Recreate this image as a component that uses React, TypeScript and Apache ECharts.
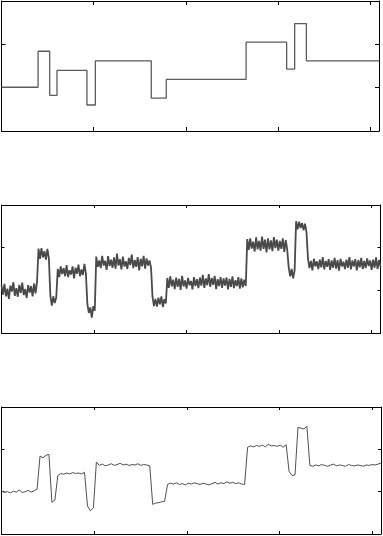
import React, { useEffect, useRef } from "react";
import * as echarts from "echarts";

// Step (true) signal: start sample of each level, and the level
const stepStarts = [0, 397, 523, 602, 927, 1018, 1625, 1788, 2654, 3094, 3181, 3308, 4096];
const stepLevels = [1.01, 1.84, 0.82, 1.40, 0.60, 1.62, 0.76, 1.19, 2.05, 1.43, 2.48, 1.62, 1.62];

// Noisy observation, one value every 16 samples
const noisySpacing = 16;
const noisyValues = [
  1.12, 0.90, 1.15, 0.86, 1.04, 0.80, 1.11, 0.97, 1.19, 0.87, 1.05, 0.85, 1.13, 0.94, 1.18, 0.89, 1.03, 0.82, 1.12, 0.95, 1.10, 0.86, 1.16, 0.93, 1.20,
  1.98, 1.74, 1.99, 1.77, 1.92, 1.72, 1.97, 1.75,
  0.88, 0.64, 0.86, 0.70, 0.84,
  1.50, 1.31, 1.56, 1.38, 1.52, 1.33, 1.59, 1.31, 1.47, 1.37, 1.56, 1.28, 1.53, 1.39, 1.60, 1.33, 1.49, 1.36, 1.62, 1.40,
  0.68, 0.47, 0.60, 0.36, 0.63, 0.52,
  1.79, 1.55, 1.70, 1.52, 1.81, 1.58, 1.69, 1.48, 1.80, 1.57, 1.72, 1.53, 1.77, 1.51, 1.86, 1.58, 1.73, 1.49, 1.79, 1.56, 1.68, 1.50, 1.76, 1.59, 1.84, 1.52, 1.71, 1.55, 1.78, 1.47, 1.74, 1.56, 1.81, 1.51, 1.75, 1.58, 1.70, 1.53,
  0.85, 0.63, 0.80, 0.62, 0.83, 0.67, 0.86, 0.61, 0.79, 0.69,
  1.29, 1.06, 1.33, 1.09, 1.25, 1.03, 1.30, 1.08, 1.27, 1.01, 1.34, 1.09, 1.23, 1.04, 1.29, 1.12, 1.22, 1.02, 1.31, 1.10, 1.26, 1.05, 1.30, 1.11, 1.36, 1.06, 1.28, 1.12, 1.38, 1.08, 1.29, 1.13, 1.34, 1.03, 1.26, 1.10, 1.31, 1.06, 1.28, 1.11, 1.30, 1.02, 1.27, 1.08, 1.33, 1.05, 1.24, 1.10, 1.31, 1.04, 1.28, 1.07, 1.25, 1.10,
  2.20, 1.95, 2.22, 1.98, 2.14, 1.91, 2.24, 1.96, 2.16, 1.93, 2.26, 1.97, 2.19, 1.89, 2.22, 1.96, 2.17, 1.92, 2.25, 1.99, 2.19, 1.93, 2.16, 1.97, 2.22, 1.90, 2.18, 1.95,
  1.53, 1.33, 1.50, 1.28, 1.47,
  2.62, 2.43, 2.61, 2.46, 2.58, 2.41, 2.56, 2.37,
  1.75, 1.52, 1.69, 1.47, 1.74, 1.56, 1.68, 1.50, 1.72, 1.54, 1.78, 1.49, 1.69, 1.55, 1.73, 1.48, 1.70, 1.53, 1.76, 1.51, 1.71, 1.46, 1.74, 1.56, 1.67, 1.50, 1.72, 1.53, 1.78, 1.49, 1.70, 1.56, 1.73, 1.47, 1.71, 1.54, 1.76, 1.50, 1.69, 1.52, 1.75, 1.57, 1.70, 1.48, 1.72, 1.53, 1.77, 1.50, 1.71, 1.55,
];

// Denoised estimate, one value every 32 samples
const smoothSpacing = 32;
const smoothValues = [
  1.02, 0.98, 1.00, 0.97, 1.01, 0.99, 1.04, 0.98, 1.00, 1.03, 0.99, 1.02, 1.06,
  1.84, 1.80, 1.86, 1.88,
  0.75, 0.80,
  1.38, 1.43, 1.41, 1.44, 1.42, 1.45, 1.43, 1.44, 1.42, 1.46,
  0.66, 0.55, 0.62,
  1.70, 1.62, 1.65, 1.61, 1.63, 1.66, 1.62, 1.64, 1.67, 1.63, 1.65, 1.62, 1.64, 1.63, 1.66, 1.62, 1.64, 1.63, 1.61,
  0.70, 0.73, 0.74, 0.76, 0.77,
  1.17, 1.20, 1.18, 1.21, 1.17, 1.19, 1.16, 1.20, 1.18, 1.21, 1.19, 1.17, 1.20, 1.18, 1.16, 1.19, 1.22, 1.18, 1.21, 1.19, 1.23, 1.20, 1.22, 1.19, 1.21, 1.18, 1.17,
  2.05, 2.08, 2.06, 2.09, 2.07, 2.10, 2.06, 2.12, 2.08, 2.09, 2.07, 2.10, 2.05, 2.11,
  1.48, 1.38, 1.40,
  2.52, 2.50, 2.48, 2.55,
  1.62, 1.60, 1.63, 1.61, 1.64, 1.62, 1.60, 1.63, 1.65, 1.61, 1.63, 1.62, 1.60, 1.64, 1.62, 1.61, 1.63, 1.62, 1.60, 1.63, 1.62, 1.64, 1.63, 1.65, 1.68,
];

const xMax = 4096;
const xInterval = 1000;
const yMin = 0;
const yMax = 3;
const yInterval = 1;

export default function App() {
  const ref = useRef<HTMLDivElement>(null);
  useEffect(() => {
    document.body.style.margin = "0";
    const chart = echarts.init(ref.current!, null, { renderer: "svg" });

    const grids = [
      { left: 1.5, top: 1, width: 377.5, height: 130 },
      { left: 1.5, top: 205, width: 379, height: 128 },
      { left: 1.5, top: 407, width: 379.5, height: 127 },
    ];
    const tickLen = [4, 3, 3];

    const xAxes: any[] = [];
    const yAxes: any[] = [];
    grids.forEach((_, gi) => {
      ["bottom", "top"].forEach((pos) => {
        xAxes.push({
          type: "value",
          gridIndex: gi,
          position: pos,
          min: 0,
          max: xMax,
          interval: xInterval,
          axisLine: { show: true, onZero: false, lineStyle: { color: "#000", width: 1 } },
          axisTick: { show: true, inside: true, length: tickLen[gi], lineStyle: { color: "#000", width: 1 } },
          axisLabel: { show: false },
          splitLine: { show: false },
        });
      });
      ["left", "right"].forEach((pos) => {
        yAxes.push({
          type: "value",
          gridIndex: gi,
          position: pos,
          min: yMin,
          max: yMax,
          interval: yInterval,
          axisLine: { show: true, onZero: false, lineStyle: { color: "#000", width: 1 } },
          axisTick: { show: true, inside: true, length: tickLen[gi], lineStyle: { color: "#000", width: 1 } },
          axisLabel: { show: false },
          splitLine: { show: false },
        });
      });
    });

    const stepData = stepStarts.map((x, i) => [x, stepLevels[i]]);
    const noisyData = noisyValues.map((v, i) => [i * noisySpacing, v]);
    const smoothData = smoothValues.map((v, i) => [i * smoothSpacing, v]);

    chart.setOption({
      animation: false,
      grid: grids,
      xAxis: xAxes,
      yAxis: yAxes,
      series: [
        {
          type: "line",
          xAxisIndex: 0,
          yAxisIndex: 0,
          step: "end",
          data: stepData,
          showSymbol: false,
          lineStyle: { color: "#5c5c5c", width: 1.3 },
        },
        {
          type: "line",
          xAxisIndex: 2,
          yAxisIndex: 2,
          data: noisyData,
          showSymbol: false,
          lineStyle: { color: "#4a4a4a", width: 1.8 },
        },
        {
          type: "line",
          xAxisIndex: 4,
          yAxisIndex: 4,
          data: smoothData,
          showSymbol: false,
          lineStyle: { color: "#505050", width: 1 },
        },
      ],
    });
    return () => chart.dispose();
  }, []);
  return <div ref={ref} style={{ width: 383, height: 536 }} />;
}
